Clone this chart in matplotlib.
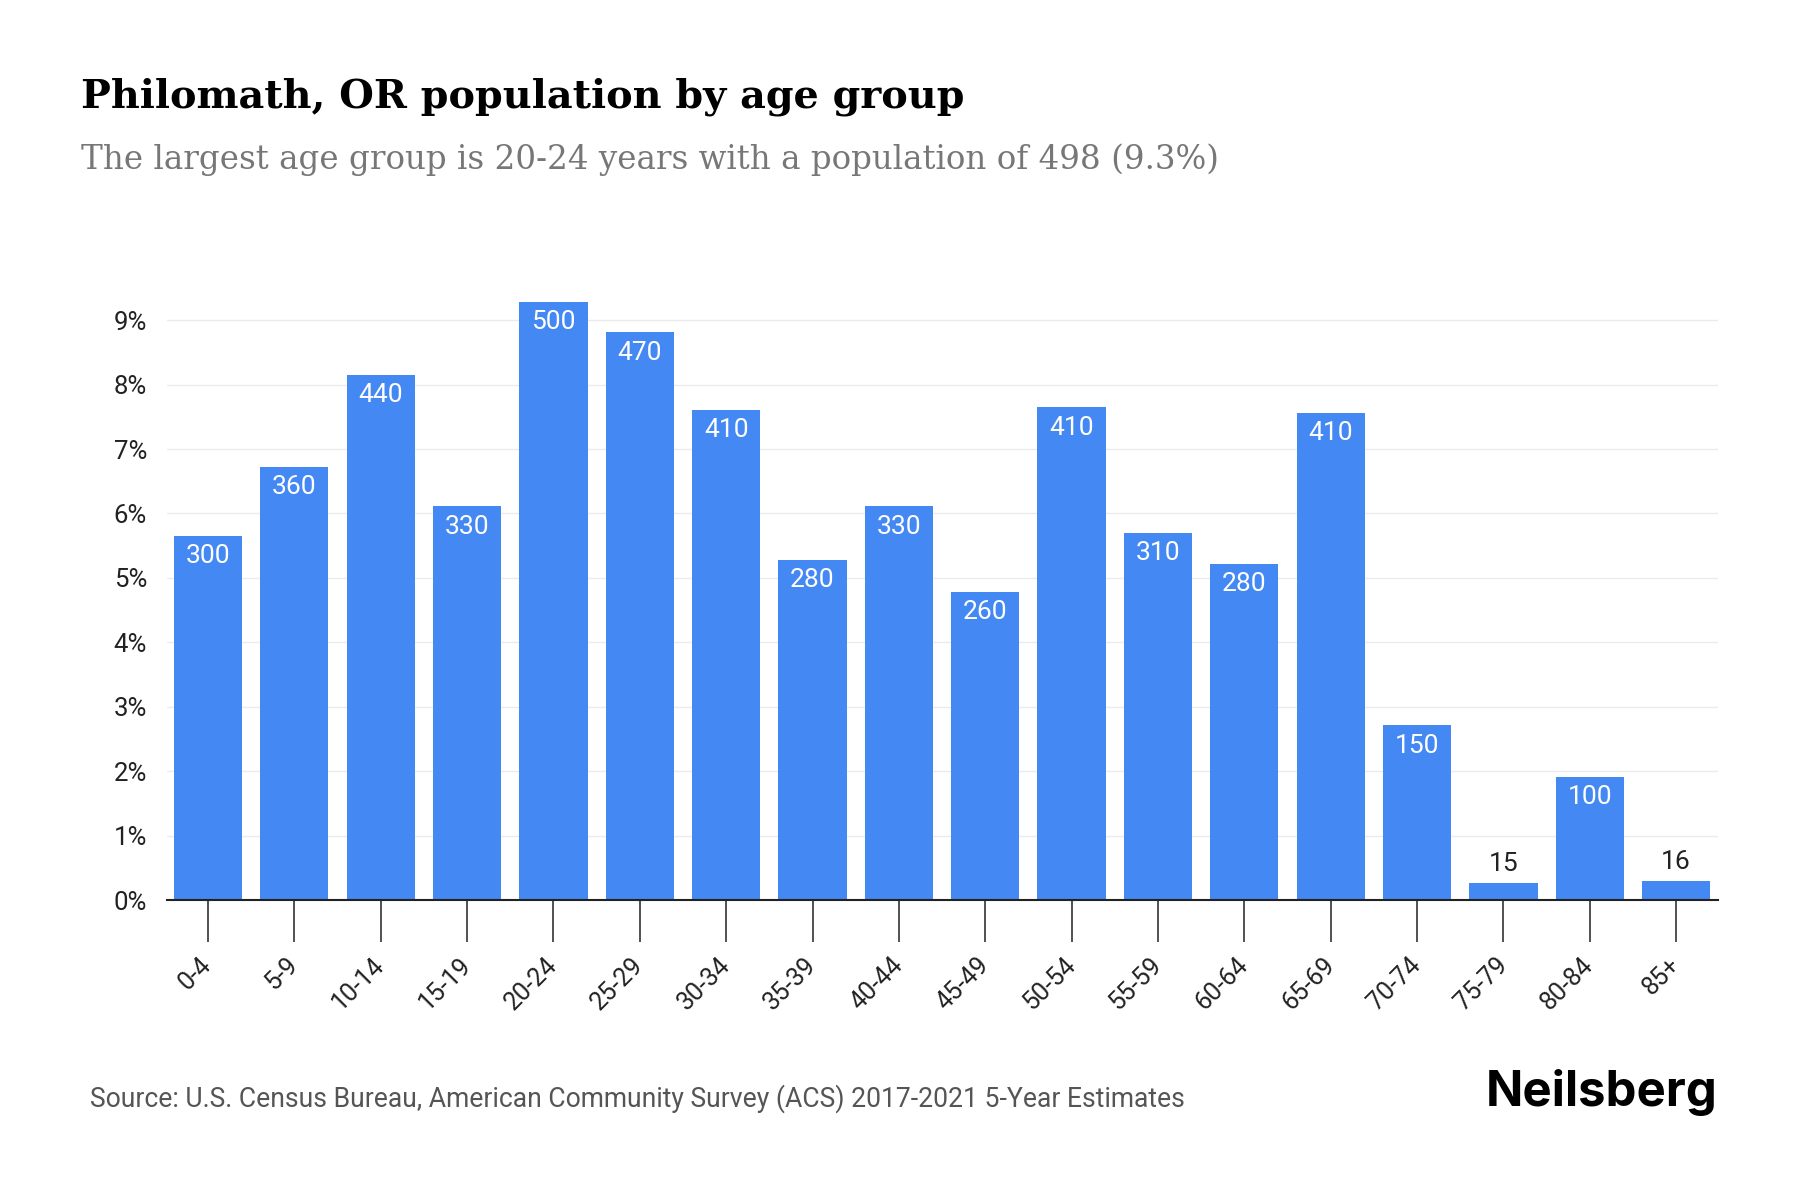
import matplotlib
matplotlib.use("Agg")
import matplotlib.pyplot as plt
import numpy as np

# age groups, share of population (%) and rounded counts shown on the bars
age_groups = ['0-4', '5-9', '10-14', '15-19', '20-24', '25-29', '30-34', '35-39',
              '40-44', '45-49', '50-54', '55-59', '60-64', '65-69', '70-74',
              '75-79', '80-84', '85+']
share_pct = [5.65, 6.72, 8.15, 6.11, 9.29, 8.81, 7.61, 5.28,
             6.11, 4.78, 7.65, 5.70, 5.22, 7.56, 2.71,
             0.27, 1.91, 0.30]
labels = ['300', '360', '440', '330', '500', '470', '410', '280',
          '330', '260', '410', '310', '280', '410', '150',
          '15', '100', '16']
y_ticks = [0, 1, 2, 3, 4, 5, 6, 7, 8, 9]

bar_color = '#4488F3'

fig = plt.figure(figsize=(18, 12), dpi=100)
ax = fig.add_axes([0.0925, 0.25, 0.8622, 0.51])

x = np.arange(len(age_groups))
bars = ax.bar(x, share_pct, width=0.79, color=bar_color, zorder=2)

# labels inside the bar top, or above it for tiny bars
for rect, lab, v in zip(bars, labels, share_pct):
    cx = rect.get_x() + rect.get_width() / 2
    if v < 1.0:
        ax.annotate(lab, (cx, v), xytext=(0, 5), textcoords='offset points',
                    ha='center', va='bottom', fontsize=19, color='#222222',
                    family='Roboto')
    else:
        ax.annotate(lab, (cx, v), xytext=(0, -6), textcoords='offset points',
                    ha='center', va='top', fontsize=19, color='white',
                    family='Roboto')

ax.set_xlim(-0.48, len(age_groups) - 0.51)
ax.set_ylim(0, 9.5)
ax.set_yticks(y_ticks)
ax.set_yticklabels([f'{t}%' for t in y_ticks], family='Roboto',
                   fontsize=18.5, color='#222222')
ax.set_xticks(x)
ax.set_xticklabels(age_groups, rotation=45, ha='right', va='center', rotation_mode='anchor',
                   family='Roboto', fontsize=18, color='#222222')

ax.grid(axis='y', color='#EBEBEB', linewidth=1, zorder=0)
ax.tick_params(axis='y', length=0, pad=14)
ax.tick_params(axis='x', length=30, width=1.2, color='#333333', pad=14)
for s in ['top', 'right', 'left']:
    ax.spines[s].set_visible(False)
ax.spines['bottom'].set_color('#222222')
ax.spines['bottom'].set_linewidth(1.5)

fig.text(0.045, 0.91, 'Philomath, OR population by age group', fontsize=28.6,
         fontweight='bold', family='DejaVu Serif', color='black', va='baseline')
fig.text(0.045, 0.859, 'The largest age group is 20-24 years with a population of 498 (9.3%)',
         fontsize=23.45, family='DejaVu Serif', color='#777777', va='baseline')
fig.text(0.05, 0.0775, 'Source: U.S. Census Bureau, American Community Survey (ACS) 2017-2021 5-Year Estimates',
         fontsize=19.1, family='Roboto', color='#555555', va='baseline')
fig.text(0.954, 0.078, 'Neilsberg', fontsize=35.3, fontweight='bold', family='Inter',
         color='black', ha='right', va='baseline')

fig.savefig('out.png', dpi=100)
